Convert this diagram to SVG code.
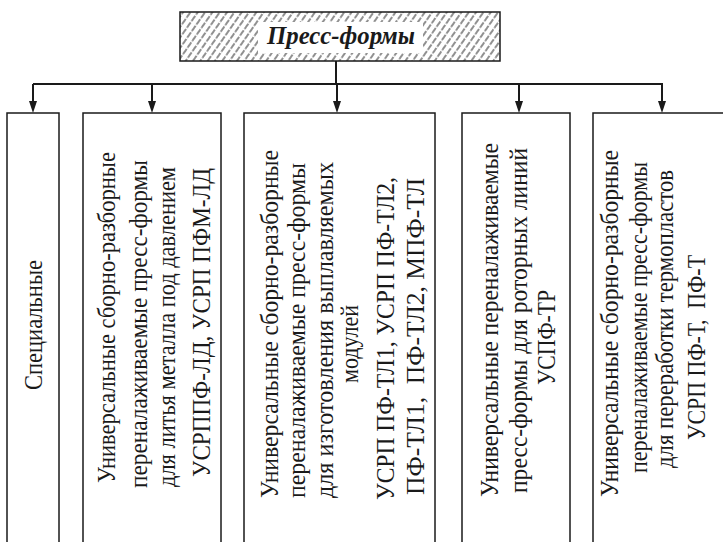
<svg xmlns="http://www.w3.org/2000/svg" width="723" height="542" viewBox="0 0 723 542">
<style>
.box{fill:#fff;stroke:#1a1a1a;stroke-width:1.5}
.t{font-family:"Liberation Serif","Times New Roman",serif;font-size:26px;fill:#1a1a1a}
.ttl{font-family:"Liberation Serif","Times New Roman",serif;font-size:25px;font-weight:bold;font-style:italic;fill:#1a1a1a}
.con{stroke:#1a1a1a;stroke-width:2;fill:none}
.ah{fill:#1a1a1a}
</style>
<defs>
<pattern id="hatch" width="6" height="8" patternUnits="userSpaceOnUse" patternTransform="rotate(35)">
<line x1="1" y1="0" x2="1" y2="8" stroke="#222" stroke-width="1" stroke-dasharray="3.5 1.5"/>
</pattern>
</defs>
<rect width="723" height="542" fill="#fff"/>

<g id="connectors">
<line class="con" x1="336" y1="61" x2="336" y2="84"/>
<line class="con" x1="33" y1="84" x2="663" y2="84"/>
<path class="con" d="M33,84 V103"/>
<path class="con" d="M152,84 V103"/>
<path class="con" d="M337,84 V103"/>
<path class="con" d="M519,84 V103"/>
<path class="con" d="M662,84 V103"/>
<path class="ah" d="M29,101 L37,101 L33,113 Z"/>
<path class="ah" d="M148,101 L156,101 L152,113 Z"/>
<path class="ah" d="M333,101 L341,101 L337,113 Z"/>
<path class="ah" d="M515,101 L523,101 L519,113 Z"/>
<path class="ah" d="M658,101 L666,101 L662,113 Z"/>
</g>

<g id="root">
<rect x="180" y="12" width="320" height="49" fill="#fff"/>
<rect x="180" y="12" width="320" height="49" fill="url(#hatch)"/>
<rect x="258" y="22" width="165" height="31" fill="#fff"/>
<rect x="180" y="12" width="320" height="49" fill="none" stroke="#1a1a1a" stroke-width="1.5"/>
<text class="ttl" x="341" y="44" text-anchor="middle" textLength="148" lengthAdjust="spacingAndGlyphs">Пресс-формы</text>
</g>

<g id="n1">
<rect class="box" x="7" y="113" width="52" height="440"/>
<text class="t" transform="translate(42,390) rotate(-90)" textLength="130" lengthAdjust="spacingAndGlyphs">Специальные</text>
</g>

<g id="n2">
<rect class="box" x="83" y="113" width="138" height="440"/>
<text class="t" transform="translate(115,483) rotate(-90)" textLength="331" lengthAdjust="spacingAndGlyphs">Универсальные сборно-разборные</text>
<text class="t" transform="translate(147,488) rotate(-90)" textLength="328" lengthAdjust="spacingAndGlyphs">переналаживаемые пресс-формы</text>
<text class="t" transform="translate(175,487) rotate(-90)" textLength="320" lengthAdjust="spacingAndGlyphs">для литья металла под давлением</text>
<text class="t" transform="translate(210,477) rotate(-90)" textLength="309" lengthAdjust="spacingAndGlyphs">УСРППФ-ЛД, УСРП ПФМ-ЛД</text>
</g>

<g id="n3">
<rect class="box" x="244" y="113" width="191" height="440"/>
<text class="t" transform="translate(278,498) rotate(-90)" textLength="348" lengthAdjust="spacingAndGlyphs">Универсальные сборно-разборные</text>
<text class="t" transform="translate(305,498) rotate(-90)" textLength="335" lengthAdjust="spacingAndGlyphs">переналаживаемые пресс-формы</text>
<text class="t" transform="translate(333,498) rotate(-90)" textLength="336" lengthAdjust="spacingAndGlyphs">для изготовления выплавляемых</text>
<text class="t" transform="translate(358,383) rotate(-90)" textLength="78" lengthAdjust="spacingAndGlyphs">модулей</text>
<text class="t" transform="translate(394,500) rotate(-90)" textLength="323" lengthAdjust="spacingAndGlyphs">УСРП ПФ-ТЛ1, УСРП ПФ-ТЛ2,</text>
<text class="t" transform="translate(424,495) rotate(-90)" textLength="317" lengthAdjust="spacingAndGlyphs">ПФ-ТЛ1,&#160; ПФ-ТЛ2, МПФ-ТЛ</text>
</g>

<g id="n4">
<rect class="box" x="462" y="113" width="108" height="440"/>
<text class="t" transform="translate(498,497) rotate(-90)" textLength="354" lengthAdjust="spacingAndGlyphs">Универсальные переналаживаемые</text>
<text class="t" transform="translate(527,493) rotate(-90)" textLength="345" lengthAdjust="spacingAndGlyphs">пресс-формы для роторных линий</text>
<text class="t" transform="translate(555,385) rotate(-90)" textLength="95" lengthAdjust="spacingAndGlyphs">УСПФ-ТР</text>
</g>

<g id="n5">
<rect class="box" x="593" y="113" width="140" height="440"/>
<text class="t" transform="translate(618,497) rotate(-90)" textLength="347" lengthAdjust="spacingAndGlyphs">Универсальные сборно-разборные</text>
<text class="t" transform="translate(647,473) rotate(-90)" textLength="311" lengthAdjust="spacingAndGlyphs">переналаживаемые пресс-формы</text>
<text class="t" transform="translate(673,468) rotate(-90)" textLength="298" lengthAdjust="spacingAndGlyphs">для переработки термопластов</text>
<text class="t" transform="translate(705,440) rotate(-90)" textLength="185" lengthAdjust="spacingAndGlyphs">УСРП ПФ-Т,&#160; ПФ-Т</text>
</g>
</svg>
